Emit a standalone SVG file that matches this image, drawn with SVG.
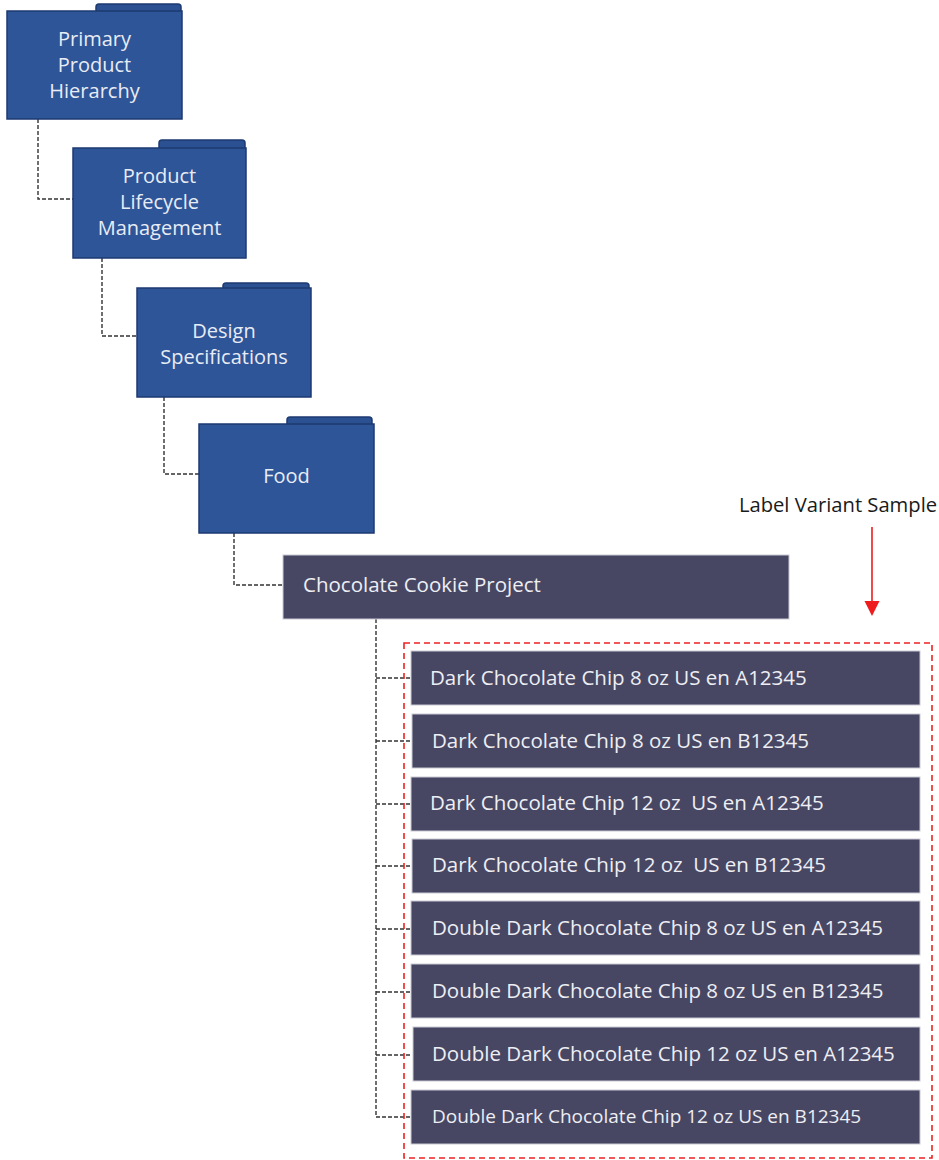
<svg xmlns="http://www.w3.org/2000/svg" width="939" height="1160" viewBox="0 0 939 1160">
<style>
.tab{fill:#2c5193;stroke:#1d3a72;stroke-width:1.5}
.fold{fill:#2e5597;stroke:#1d3a72;stroke-width:1.5}
.ft{font-family:"Open Sans","Noto Sans",sans-serif;font-size:20px;fill:#e8ecf5;text-anchor:middle}
.dk{fill:#474764;stroke:#c9c9d3;stroke-width:1}
.it{font-family:"Open Sans","Noto Sans",sans-serif;font-size:20.5px;fill:#eeeef3}
.con{fill:none;stroke:#333333;stroke-width:1.4;stroke-dasharray:4 2}
</style>
<rect width="939" height="1160" fill="#ffffff"/>
<g id="connectors">
<path class="con" d="M38 119 V199 H73"/>
<path class="con" d="M102 258 V336 H137"/>
<path class="con" d="M164 397 V474 H199"/>
<path class="con" d="M234 533 V585 H283"/>
<path class="con" d="M376 619 V1117"/>
<path class="con" d="M376 678 H411 M376 741 H411 M376 804 H411 M376 866 H411 M376 929 H411 M376 992 H411 M376 1055 H411 M376 1117 H411"/>
</g>
<g id="node-primary">
<path class="tab" d="M96 12 V7 Q96 4 99 4 H178 Q181 4 181 7 V12 Z"/>
<rect class="fold" x="7" y="11" width="175" height="108"/>
<text class="ft" x="94.5" y="46">Primary</text>
<text class="ft" x="94.5" y="72">Product</text>
<text class="ft" x="94.5" y="98">Hierarchy</text>
</g>
<g id="node-plm">
<path class="tab" d="M159 149 V143 Q159 140 162 140 H242 Q245 140 245 143 V149 Z"/>
<rect class="fold" x="73" y="148" width="173" height="110"/>
<text class="ft" x="159.5" y="183">Product</text>
<text class="ft" x="159.5" y="209">Lifecycle</text>
<text class="ft" x="159.5" y="235">Management</text>
</g>
<g id="node-design">
<path class="tab" d="M223 289 V286 Q223 283 226 283 H306 Q309 283 309 286 V289 Z"/>
<rect class="fold" x="137" y="288" width="174" height="109"/>
<text class="ft" x="224" y="338">Design</text>
<text class="ft" x="224" y="364">Specifications</text>
</g>
<g id="node-food">
<path class="tab" d="M287 425 V420 Q287 417 290 417 H369 Q372 417 372 420 V425 Z"/>
<rect class="fold" x="199" y="424" width="175" height="109"/>
<text class="ft" x="286.5" y="483">Food</text>
</g>
<g id="node-project">
<rect class="dk" x="283" y="555" width="506" height="64"/>
<text class="it" x="303" y="592">Chocolate Cookie Project</text>
</g>
<g id="node-label-variant">
<text x="838" y="512" style="font-family:'Open Sans','Noto Sans',sans-serif;font-size:20.2px;fill:#1a1a1a;text-anchor:middle">Label Variant Sample</text>
<line x1="872" y1="527" x2="872" y2="603" stroke="#ee1c1c" stroke-width="1.6"/>
<path d="M864.5 601 H879.5 L872 616 Z" fill="#ee1c1c"/>
<rect x="404" y="643" width="528" height="515" fill="none" stroke="#ee2222" stroke-width="1.6" stroke-dasharray="6 4"/>
</g>
<g id="node-v1">
<rect class="dk" x="411" y="651" width="509" height="54"/>
<text class="it" x="430" y="685">Dark Chocolate Chip 8 oz US en A12345</text>
</g>
<g id="node-v2">
<rect class="dk" x="412" y="714" width="508" height="54"/>
<text class="it" x="432" y="748">Dark Chocolate Chip 8 oz US en B12345</text>
</g>
<g id="node-v3">
<rect class="dk" x="411" y="777" width="509" height="54"/>
<text class="it" x="430" y="810" xml:space="preserve">Dark Chocolate Chip 12 oz  US en A12345</text>
</g>
<g id="node-v4">
<rect class="dk" x="412" y="839" width="508" height="54"/>
<text class="it" x="432" y="872" xml:space="preserve">Dark Chocolate Chip 12 oz  US en B12345</text>
</g>
<g id="node-v5">
<rect class="dk" x="411" y="901" width="509" height="54"/>
<text class="it" x="432" y="935">Double Dark Chocolate Chip 8 oz US en A12345</text>
</g>
<g id="node-v6">
<rect class="dk" x="411" y="964" width="509" height="54"/>
<text class="it" x="432" y="998">Double Dark Chocolate Chip 8 oz US en B12345</text>
</g>
<g id="node-v7">
<rect class="dk" x="413" y="1027" width="507" height="54"/>
<text class="it" x="432" y="1061">Double Dark Chocolate Chip 12 oz US en A12345</text>
</g>
<g id="node-v8">
<rect class="dk" x="411" y="1090" width="509" height="54"/>
<text class="it" x="432" y="1123" style="font-size:19px">Double Dark Chocolate Chip 12 oz US en B12345</text>
</g>
</svg>
